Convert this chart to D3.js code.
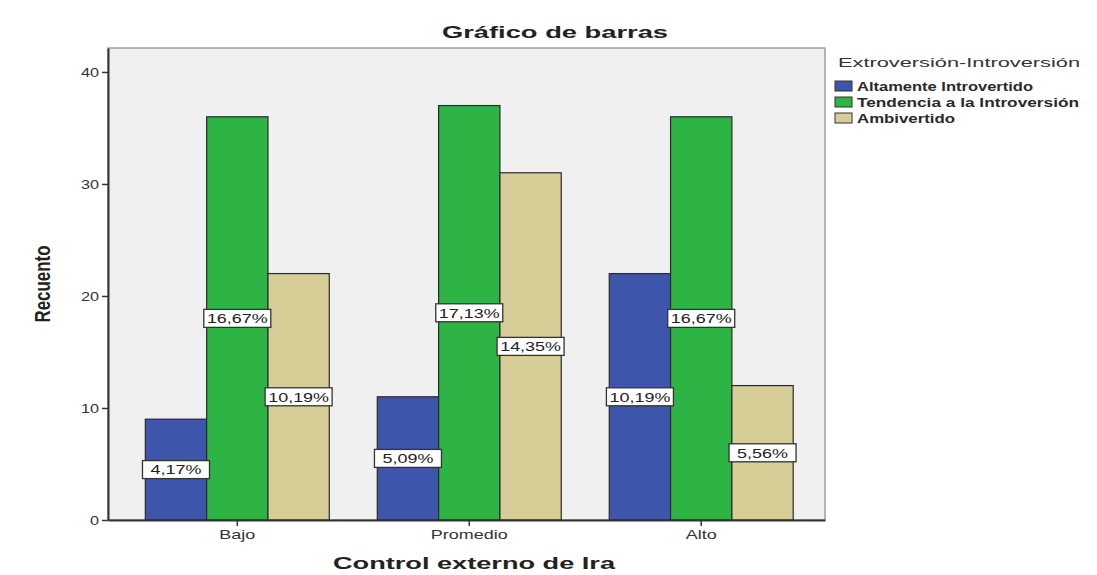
<!DOCTYPE html>
<html><head><meta charset="utf-8">
<script src="https://cdn.jsdelivr.net/npm/d3@7"></script>
<style>body{margin:0;background:#fff;}svg{display:block;font-family:Arial,"Liberation Sans",sans-serif;}</style>
</head><body><svg id="c" width="1097" height="575"></svg>
<script>
const categories = ["Bajo", "Promedio", "Alto"];
const seriesNames = ["Altamente Introvertido", "Tendencia a la Introversión", "Ambivertido"];
const altamente = [9, 11, 22];
const tendencia = [36, 37, 36];
const ambivertido = [22, 31, 12];
const pctAltamente = ["4,17%", "5,09%", "10,19%"];
const pctTendencia = ["16,67%", "17,13%", "16,67%"];
const pctAmbivertido = ["10,19%", "14,35%", "5,56%"];
const yTicks = [0, 10, 20, 30, 40];
const colors = ["#3D55AA", "#2DB444", "#D6CD97"];

const series = [altamente, tendencia, ambivertido];
const pcts = [pctAltamente, pctTendencia, pctAmbivertido];
const K = 1.38; // horizontal stretch of the reference text

function stretch(sel, k) {
  sel.each(function () {
    const w = this.getComputedTextLength();
    d3.select(this).attr("textLength", w * k).attr("lengthAdjust", "spacingAndGlyphs");
  });
}

const svg = d3.select("#c");
const L = 108, R = 825, T = 48, B = 520;

const x = d3.scaleBand().domain(categories).range([L, R]).paddingInner(0.207).paddingOuter(0.149).align(0.54);
const xs = d3.scaleBand().domain(d3.range(3)).range([0, x.bandwidth()]);
const y = d3.scaleLinear().domain([0, 42.14]).range([B, T]);

svg.append("rect").attr("x", L).attr("y", T).attr("width", R - L).attr("height", B - T)
  .attr("fill", "#F0F0F0").attr("stroke", "#888").attr("stroke-width", 1.2);

const groups = svg.append("g").selectAll("g").data(categories).join("g")
  .attr("transform", d => `translate(${x(d)},0)`);
series.forEach((s, si) => {
  groups.append("rect")
    .attr("x", xs(si)).attr("width", xs.bandwidth())
    .attr("y", (d, i) => y(s[i])).attr("height", (d, i) => B - y(s[i]))
    .attr("fill", colors[si]).attr("stroke", "#2a2a2a").attr("stroke-width", 1.2);
});

series.forEach((s, si) => {
  const lg = groups.append("g")
    .attr("transform", (d, i) => `translate(${xs(si) + xs.bandwidth() / 2},${y(s[i] / 2)})`);
  lg.append("rect").attr("x", -33.5).attr("y", -9).attr("width", 67).attr("height", 18)
    .attr("fill", "#fff").attr("stroke", "#333").attr("stroke-width", 1.3);
  lg.append("text").attr("text-anchor", "middle").attr("dy", "0.37em")
    .attr("font-size", 13).attr("fill", "#222").text((d, i) => pcts[si][i])
    .call(stretch, K);
});

const yAxis = svg.append("g").attr("transform", `translate(${L},0)`)
  .call(d3.axisLeft(y).tickValues(yTicks).tickSize(6).tickSizeOuter(0).tickPadding(3));
yAxis.select(".domain").attr("stroke", "#333").attr("stroke-width", 2);
yAxis.selectAll(".tick line").attr("stroke", "#333").attr("stroke-width", 1.5);
yAxis.selectAll("text").attr("font-size", 13).attr("fill", "#333").attr("font-family", "Arial, Liberation Sans, sans-serif")
  .call(stretch, 1.25);

const xAxis = svg.append("g").attr("transform", `translate(0,${B})`)
  .call(d3.axisBottom(x).tickSize(6).tickSizeOuter(0).tickPadding(4));
xAxis.select(".domain").attr("stroke", "#333").attr("stroke-width", 2);
xAxis.selectAll(".tick line").attr("stroke", "#333").attr("stroke-width", 1.5);
xAxis.selectAll("text").attr("font-size", 13).attr("fill", "#333").attr("font-family", "Arial, Liberation Sans, sans-serif")
  .call(stretch, K);

svg.append("text").attr("x", 555).attr("y", 38).attr("text-anchor", "middle")
  .attr("font-size", 17).attr("font-weight", "bold").attr("fill", "#222")
  .attr("textLength", 226).attr("lengthAdjust", "spacingAndGlyphs").text("Gráfico de barras");
svg.append("text").attr("x", 474).attr("y", 569).attr("text-anchor", "middle")
  .attr("font-size", 16).attr("font-weight", "bold").attr("fill", "#222")
  .attr("textLength", 282).attr("lengthAdjust", "spacingAndGlyphs").text("Control externo de Ira");
svg.append("text").attr("transform", "translate(50,284) rotate(-90) scale(1,1.35)").attr("text-anchor", "middle")
  .attr("font-size", 16).attr("font-weight", "bold").attr("fill", "#222")
  .attr("textLength", 77).attr("lengthAdjust", "spacingAndGlyphs").text("Recuento");

const lg = svg.append("g");
lg.append("text").attr("x", 838).attr("y", 67).attr("font-size", 13.5).attr("fill", "#333")
  .attr("textLength", 242).attr("lengthAdjust", "spacingAndGlyphs").text("Extroversión-Introversión");
const legendWidths = [176, 222, 98];
seriesNames.forEach((n, i) => {
  const yy = 81 + i * 16;
  lg.append("rect").attr("x", 835).attr("y", yy).attr("width", 17).attr("height", 10)
    .attr("fill", colors[i]).attr("stroke", "#333").attr("stroke-width", 1);
  lg.append("text").attr("x", 857).attr("y", yy + 9.5).attr("font-size", 12).attr("font-weight", "bold")
    .attr("fill", "#2a2a2a").attr("textLength", legendWidths[i]).attr("lengthAdjust", "spacingAndGlyphs").text(n);
});
</script></body></html>
